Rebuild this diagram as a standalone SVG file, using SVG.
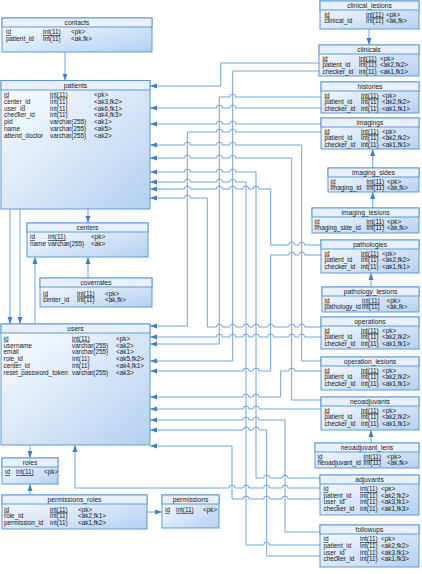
<svg xmlns="http://www.w3.org/2000/svg" width="422" height="574" viewBox="0 0 422 574">
<defs>
<linearGradient id="g" x1="0" y1="0" x2="1" y2="1">
<stop offset="0" stop-color="#ffffff"/>
<stop offset="1" stop-color="#b3d0f2"/>
</linearGradient>
<marker id="a" markerUnits="userSpaceOnUse" markerWidth="7" markerHeight="6" refX="7" refY="3" orient="auto">
<path d="M0,0.5 L7,3 L0,5.5 z" fill="#3d80c9"/>
</marker>
</defs>
<style>
.b{fill:url(#g);stroke:#5f9ad6;stroke-width:1}
.h{fill:#e7f0fb;stroke:#5f9ad6;stroke-width:1}
text{font-family:"Liberation Sans",Arial,sans-serif;font-size:6.4px;fill:#1a1a1a}
.t{text-anchor:middle;font-size:6.7px}
.u{text-decoration:underline}
.c{fill:none;stroke:#6ea3dc;stroke-width:1}
</style>
<rect width="422" height="574" fill="#ffffff"/>

<g id="connectors">
<path class="c" marker-end="url(#a)" d="M65,52V80.5"/>
<path class="c" marker-end="url(#a)" d="M88,209V223"/>
<path class="c" marker-end="url(#a)" d="M88,278V257"/>
<path class="c" marker-end="url(#a)" d="M35,324V257"/>
<path class="c" marker-end="url(#a)" d="M10,209V324"/>
<path class="c" marker-end="url(#a)" d="M20,209V324"/>
<path class="c" marker-end="url(#a)" d="M30,445V458"/>
<path class="c" marker-end="url(#a)" d="M30,495V484"/>
<path class="c" marker-end="url(#a)" d="M147,512H162"/>
<path class="c" marker-end="url(#a)" d="M369,29V45"/>
<path class="c" marker-end="url(#a)" d="M372.7,168V149"/>
<path class="c" marker-end="url(#a)" d="M372.7,208V192"/>
<path class="c" marker-end="url(#a)" d="M371,287V273"/>
<path class="c" marker-end="url(#a)" d="M371,443V430"/>

<path class="c" marker-end="url(#a)" d="M319,63H220.7V86H150"/>
<path class="c" marker-end="url(#a)" d="M319,71H232.7V361H150"/>
<path class="c" marker-end="url(#a)" d="M321,108H235.7a3 3 0 0 0-6 0H222.3a3 3 0 0 0-6 0H150"/>
<path class="c" marker-end="url(#a)" d="M321,97H235.7a3 3 0 0 0-6 0H219.3V344H150"/>
<path class="c" marker-end="url(#a)" d="M321,124H235.7a3 3 0 0 0-6 0H222.3a3 3 0 0 0-6 0H150"/>
<path class="c" marker-end="url(#a)" d="M321,132H235.7a3 3 0 0 0-6 0H222.3a3 3 0 0 0-6 0H187.3V326H150"/>
<path class="c" marker-end="url(#a)" d="M321,245H304.7a3 3 0 0 0-6 0H294.7a3 3 0 0 0-6 0H270.7V189H259a3 3 0 0 0-6 0H249a3 3 0 0 0-6 0H235.7a3 3 0 0 0-6 0H222.3a3 3 0 0 0-6 0H190.3a3 3 0 0 0-6 0H150"/>
<path class="c" marker-end="url(#a)" d="M321,255H304.7a3 3 0 0 0-6 0H294.7a3 3 0 0 0-6 0H270.7V371H259a3 3 0 0 0-6 0H249a3 3 0 0 0-6 0H150"/>
<path class="c" marker-end="url(#a)" d="M321,327H304.7a3 3 0 0 0-6 0H294.7a3 3 0 0 0-6 0H273.7a3 3 0 0 0-6 0H259a3 3 0 0 0-6 0H249a3 3 0 0 0-6 0H235.7a3 3 0 0 0-6 0H222.3a3 3 0 0 0-6 0H207.3V198H190.3a3 3 0 0 0-6 0H150"/>
<path class="c" marker-end="url(#a)" d="M321,337H304.7a3 3 0 0 0-6 0H294.7a3 3 0 0 0-6 0H273.7a3 3 0 0 0-6 0H259a3 3 0 0 0-6 0H249a3 3 0 0 0-6 0H235.7a3 3 0 0 0-6 0H222.3a3 3 0 0 0-6 0H150"/>
<path class="c" marker-end="url(#a)" d="M321,361H301.7V145H235.7a3 3 0 0 0-6 0H222.3a3 3 0 0 0-6 0H190.3a3 3 0 0 0-6 0H150"/>
<path class="c" marker-end="url(#a)" d="M321,371H294.7a3 3 0 0 0-6 0H280.7V397H259a3 3 0 0 0-6 0H249a3 3 0 0 0-6 0H150"/>
<path class="c" marker-end="url(#a)" d="M321,400H291.7V158H235.7a3 3 0 0 0-6 0H222.3a3 3 0 0 0-6 0H190.3a3 3 0 0 0-6 0H150"/>
<path class="c" marker-end="url(#a)" d="M321,409H259a3 3 0 0 0-6 0H249a3 3 0 0 0-6 0H150"/>
<path class="c" marker-end="url(#a)" d="M320,478H288a3 3 0 0 0-6 0H269.7a3 3 0 0 0-6 0H256V172H235.7a3 3 0 0 0-6 0H222.3a3 3 0 0 0-6 0H190.3a3 3 0 0 0-6 0H150"/>
<path class="c" marker-end="url(#a)" d="M320,488H288a3 3 0 0 0-6 0H269.7a3 3 0 0 0-6 0H249a3 3 0 0 0-6 0H235a3 3 0 0 0-6 0H75V445"/>
<path class="c" marker-end="url(#a)" d="M320,499H288a3 3 0 0 0-6 0H269.7a3 3 0 0 0-6 0H249a3 3 0 0 0-6 0H232V446H150"/>
<path class="c" marker-end="url(#a)" d="M320,545H269.7a3 3 0 0 0-6 0H246V182H235.7a3 3 0 0 0-6 0H222.3a3 3 0 0 0-6 0H190.3a3 3 0 0 0-6 0H150"/>
<path class="c" marker-end="url(#a)" d="M320,532H285V420H259a3 3 0 0 0-6 0H249a3 3 0 0 0-6 0H150"/>
<path class="c" marker-end="url(#a)" d="M320,556H266.7V430H259a3 3 0 0 0-6 0H249a3 3 0 0 0-6 0H150"/>
</g>

<g id="contacts">
<rect class="b" x="2" y="18" width="150" height="34"/>
<rect class="h" x="2" y="18" width="150" height="9"/>
<text class="t" x="77" y="25">contacts</text>
<text x="6" y="34.2" class="u">id</text><text x="43" y="34.2" class="u">int(11)</text><text x="71" y="34.2">&lt;pk&gt;</text>
<text x="6" y="41.1">patient_id</text><text x="43" y="41.1">int(11)</text><text x="71" y="41.1">&lt;ak,fk&gt;</text>
</g>

<g id="patients">
<rect class="b" x="1" y="80.5" width="149" height="128.5"/>
<rect class="h" x="1" y="80.5" width="149" height="9.5"/>
<text class="t" x="75.5" y="87.6">patients</text>
<text x="4" y="96.6" class="u">id</text><text x="50" y="96.6" class="u">int(11)</text><text x="94" y="96.6">&lt;pk&gt;</text>
<text x="4" y="103.5">center_id</text><text x="50" y="103.5">int(11)</text><text x="94" y="103.5">&lt;ak3,fk2&gt;</text>
<text x="4" y="110.5">user_id</text><text x="50" y="110.5">int(11)</text><text x="94" y="110.5">&lt;ak6,fk1&gt;</text>
<text x="4" y="117.4">checker_id</text><text x="50" y="117.4">int(11)</text><text x="94" y="117.4">&lt;ak4,fk3&gt;</text>
<text x="4" y="124.4">pid</text><text x="50" y="124.4">varchar(255)</text><text x="94" y="124.4">&lt;ak1&gt;</text>
<text x="4" y="131.3">name</text><text x="50" y="131.3">varchar(255)</text><text x="94" y="131.3">&lt;ak5&gt;</text>
<text x="4" y="138.3">attend_doctor</text><text x="50" y="138.3">varchar(255)</text><text x="94" y="138.3">&lt;ak2&gt;</text>
</g>

<g id="centers">
<rect class="b" x="27" y="223" width="121" height="34"/>
<rect class="h" x="27" y="223" width="121" height="9"/>
<text class="t" x="87.5" y="230">centers</text>
<text x="30" y="239" class="u">id</text><text x="48" y="239" class="u">int(11)</text><text x="91" y="239">&lt;pk&gt;</text>
<text x="30" y="245.7">name</text><text x="48" y="245.7">varchar(255)</text><text x="91" y="245.7">&lt;ak&gt;</text>
</g>

<g id="coverrates">
<rect class="b" x="40" y="278" width="112" height="29"/>
<rect class="h" x="40" y="278" width="112" height="9"/>
<text class="t" x="96" y="285">coverrates</text>
<text x="43" y="295.6" class="u">id</text><text x="77" y="295.6" class="u">int(11)</text><text x="105" y="295.6">&lt;pk&gt;</text>
<text x="43" y="302.3">center_id</text><text x="77" y="302.3">int(11)</text><text x="105" y="302.3">&lt;ak,fk&gt;</text>
</g>

<g id="users">
<rect class="b" x="1" y="324" width="149" height="121"/>
<rect class="h" x="1" y="324" width="149" height="9"/>
<text class="t" x="75.5" y="331">users</text>
<text x="3.5" y="340.6" class="u">id</text><text x="72" y="340.6" class="u">int(11)</text><text x="116" y="340.6">&lt;pk&gt;</text>
<text x="3.5" y="347.5">username</text><text x="72" y="347.5">varchar(255)</text><text x="116" y="347.5">&lt;ak2&gt;</text>
<text x="3.5" y="354.4">email</text><text x="72" y="354.4">varchar(255)</text><text x="116" y="354.4">&lt;ak1&gt;</text>
<text x="3.5" y="361.3">role_id</text><text x="72" y="361.3">int(11)</text><text x="116" y="361.3">&lt;ak5,fk2&gt;</text>
<text x="3.5" y="368.2">center_id</text><text x="72" y="368.2">int(11)</text><text x="116" y="368.2">&lt;ak4,fk1&gt;</text>
<text x="3.5" y="375.1">reset_password_token</text><text x="72" y="375.1">varchar(255)</text><text x="116" y="375.1">&lt;ak3&gt;</text>
</g>

<g id="roles">
<rect class="b" x="2" y="458" width="56" height="26"/>
<rect class="h" x="2" y="458" width="56" height="9"/>
<text class="t" x="30" y="465">roles</text>
<text x="5" y="474.3" class="u">id</text><text x="16" y="474.3" class="u">int(11)</text><text x="44" y="474.3">&lt;pk&gt;</text>
</g>

<g id="permissions_roles">
<rect class="b" x="2" y="495" width="145" height="34"/>
<rect class="h" x="2" y="495" width="145" height="9"/>
<text class="t" x="74.5" y="502">permissions_roles</text>
<text x="4" y="511.5" class="u">id</text><text x="50" y="511.5" class="u">int(11)</text><text x="78" y="511.5">&lt;pk&gt;</text>
<text x="4" y="518.2">role_id</text><text x="50" y="518.2">int(11)</text><text x="78" y="518.2">&lt;ak2,fk1&gt;</text>
<text x="4" y="524.9">permission_id</text><text x="50" y="524.9">int(11)</text><text x="78" y="524.9">&lt;ak1,fk2&gt;</text>
</g>

<g id="permissions">
<rect class="b" x="162" y="495" width="57" height="33"/>
<rect class="h" x="162" y="495" width="57" height="9"/>
<text class="t" x="190.5" y="502">permissions</text>
<text x="165" y="511.9" class="u">id</text><text x="176" y="511.9" class="u">int(11)</text><text x="203" y="511.9">&lt;pk&gt;</text>
</g>

<g id="clinical_lesions">
<rect class="b" x="320" y="1" width="99" height="28"/>
<rect class="h" x="320" y="1" width="99" height="9"/>
<text class="t" x="369.5" y="8">clinical_lesions</text>
<text x="324.5" y="16.5" class="u">id</text><text x="366" y="16.5" class="u">int(11)</text><text x="386" y="16.5">&lt;pk&gt;</text>
<text x="324.5" y="23">clinical_id</text><text x="366" y="23">int(11)</text><text x="386" y="23">&lt;ak,fk&gt;</text>
</g>

<g id="clinicals">
<rect class="b" x="319" y="45" width="100" height="31"/>
<rect class="h" x="319" y="45" width="100" height="9"/>
<text class="t" x="369" y="52">clinicals</text>
<text x="322.5" y="60.5" class="u">id</text><text x="359" y="60.5" class="u">int(11)</text><text x="380" y="60.5">&lt;pk&gt;</text>
<text x="322.5" y="67.2">patient_id</text><text x="359" y="67.2">int(11)</text><text x="380" y="67.2">&lt;ak2,fk2&gt;</text>
<text x="322.5" y="73.9">checker_id</text><text x="359" y="73.9">int(11)</text><text x="380" y="73.9">&lt;ak1,fk1&gt;</text>
</g>

<g id="histories">
<rect class="b" x="321" y="82" width="98" height="31"/>
<rect class="h" x="321" y="82" width="98" height="9"/>
<text class="t" x="370" y="89">histories</text>
<text x="324.5" y="97.5" class="u">id</text><text x="361" y="97.5" class="u">int(11)</text><text x="382" y="97.5">&lt;pk&gt;</text>
<text x="324.5" y="104.2">patient_id</text><text x="361" y="104.2">int(11)</text><text x="382" y="104.2">&lt;ak2,fk2&gt;</text>
<text x="324.5" y="110.9">checker_id</text><text x="361" y="110.9">int(11)</text><text x="382" y="110.9">&lt;ak1,fk1&gt;</text>
</g>

<g id="imagings">
<rect class="b" x="321" y="118" width="98" height="31"/>
<rect class="h" x="321" y="118" width="98" height="9"/>
<text class="t" x="370" y="125">imagings</text>
<text x="324.5" y="133.5" class="u">id</text><text x="361" y="133.5" class="u">int(11)</text><text x="382" y="133.5">&lt;pk&gt;</text>
<text x="324.5" y="140.2">patient_id</text><text x="361" y="140.2">int(11)</text><text x="382" y="140.2">&lt;ak2,fk2&gt;</text>
<text x="324.5" y="146.9">checker_id</text><text x="361" y="146.9">int(11)</text><text x="382" y="146.9">&lt;ak1,fk1&gt;</text>
</g>

<g id="imaging_sides">
<rect class="b" x="328" y="168" width="91" height="24"/>
<rect class="h" x="328" y="168" width="91" height="9"/>
<text class="t" x="373.5" y="175">imaging_sides</text>
<text x="330.5" y="183.8" class="u">id</text><text x="366.5" y="183.8" class="u">int(11)</text><text x="387" y="183.8">&lt;pk&gt;</text>
<text x="330.5" y="190">imaging_id</text><text x="366.5" y="190">int(11)</text><text x="387" y="190">&lt;ak,fk&gt;</text>
</g>

<g id="imaging_lesions">
<rect class="b" x="312" y="208" width="107" height="25"/>
<rect class="h" x="312" y="208" width="107" height="9"/>
<text class="t" x="365.5" y="215">imaging_lesions</text>
<text x="314.5" y="223.8" class="u">id</text><text x="366.5" y="223.8" class="u">int(11)</text><text x="387" y="223.8">&lt;pk&gt;</text>
<text x="314.5" y="230.2">imaging_side_id</text><text x="366.5" y="230.2">int(11)</text><text x="387" y="230.2">&lt;ak,fk&gt;</text>
</g>

<g id="pathologies">
<rect class="b" x="321" y="240" width="98" height="33"/>
<rect class="h" x="321" y="240" width="98" height="9"/>
<text class="t" x="370" y="247">pathologies</text>
<text x="324.5" y="255.5" class="u">id</text><text x="361" y="255.5" class="u">int(11)</text><text x="382" y="255.5">&lt;pk&gt;</text>
<text x="324.5" y="262.2">patient_id</text><text x="361" y="262.2">int(11)</text><text x="382" y="262.2">&lt;ak2,fk2&gt;</text>
<text x="324.5" y="268.9">checker_id</text><text x="361" y="268.9">int(11)</text><text x="382" y="268.9">&lt;ak1,fk1&gt;</text>
</g>

<g id="pathology_lesions">
<rect class="b" x="322" y="287" width="97" height="25"/>
<rect class="h" x="322" y="287" width="97" height="9"/>
<text class="t" x="370.5" y="294">pathology_lesions</text>
<text x="324.5" y="302.8" class="u">id</text><text x="362" y="302.8" class="u">int(11)</text><text x="386.5" y="302.8">&lt;pk&gt;</text>
<text x="324.5" y="309.2">pathology_id</text><text x="362" y="309.2">int(11)</text><text x="386.5" y="309.2">&lt;ak,fk&gt;</text>
</g>

<g id="operations">
<rect class="b" x="321" y="317" width="98" height="32"/>
<rect class="h" x="321" y="317" width="98" height="9"/>
<text class="t" x="370" y="324">operations</text>
<text x="324.5" y="332.5" class="u">id</text><text x="361" y="332.5" class="u">int(11)</text><text x="382" y="332.5">&lt;pk&gt;</text>
<text x="324.5" y="339.2">patient_id</text><text x="361" y="339.2">int(11)</text><text x="382" y="339.2">&lt;ak2,fk2&gt;</text>
<text x="324.5" y="345.9">checker_id</text><text x="361" y="345.9">int(11)</text><text x="382" y="345.9">&lt;ak1,fk1&gt;</text>
</g>

<g id="operation_lesions">
<rect class="b" x="321" y="357" width="98" height="33"/>
<rect class="h" x="321" y="357" width="98" height="9"/>
<text class="t" x="370" y="364">operation_lesions</text>
<text x="324.5" y="372.5" class="u">id</text><text x="361" y="372.5" class="u">int(11)</text><text x="382" y="372.5">&lt;pk&gt;</text>
<text x="324.5" y="379.2">patient_id</text><text x="361" y="379.2">int(11)</text><text x="382" y="379.2">&lt;ak2,fk2&gt;</text>
<text x="324.5" y="385.9">checker_id</text><text x="361" y="385.9">int(11)</text><text x="382" y="385.9">&lt;ak1,fk1&gt;</text>
</g>

<g id="neoadjuvants">
<rect class="b" x="321" y="397" width="98" height="33"/>
<rect class="h" x="321" y="397" width="98" height="9"/>
<text class="t" x="370" y="404">neoadjuvants</text>
<text x="324.5" y="412.5" class="u">id</text><text x="361" y="412.5" class="u">int(11)</text><text x="382" y="412.5">&lt;pk&gt;</text>
<text x="324.5" y="419.2">patient_id</text><text x="361" y="419.2">int(11)</text><text x="382" y="419.2">&lt;ak2,fk2&gt;</text>
<text x="324.5" y="425.9">checker_id</text><text x="361" y="425.9">int(11)</text><text x="382" y="425.9">&lt;ak1,fk1&gt;</text>
</g>

<g id="neoadjuvant_lens">
<rect class="b" x="315" y="443" width="104" height="25"/>
<rect class="h" x="315" y="443" width="104" height="9"/>
<text class="t" x="367" y="450">neoadjuvant_lens</text>
<text x="317.5" y="458.8" class="u">id</text><text x="363.5" y="458.8" class="u">int(11)</text><text x="387" y="458.8">&lt;pk&gt;</text>
<text x="317.5" y="465.2">neoadjuvant_id</text><text x="363.5" y="465.2">int(11)</text><text x="387" y="465.2">&lt;ak,fk&gt;</text>
</g>

<g id="adjuvants">
<rect class="b" x="320" y="475" width="99" height="40"/>
<rect class="h" x="320" y="475" width="99" height="9"/>
<text class="t" x="369.5" y="482">adjuvants</text>
<text x="323.5" y="491" class="u">id</text><text x="360" y="491" class="u">int(11)</text><text x="381" y="491">&lt;pk&gt;</text>
<text x="323.5" y="497.6">patient_id</text><text x="360" y="497.6">int(11)</text><text x="381" y="497.6">&lt;ak2,fk2&gt;</text>
<text x="323.5" y="504.2">user_id</text><text x="360" y="504.2">int(11)</text><text x="381" y="504.2">&lt;ak3,fk1&gt;</text>
<text x="323.5" y="510.8">checker_id</text><text x="360" y="510.8">int(11)</text><text x="381" y="510.8">&lt;ak1,fk3&gt;</text>
</g>

<g id="followups">
<rect class="b" x="320" y="525" width="99" height="42"/>
<rect class="h" x="320" y="525" width="99" height="9"/>
<text class="t" x="369.5" y="532">followups</text>
<text x="323.5" y="541.3" class="u">id</text><text x="360" y="541.3" class="u">int(11)</text><text x="381" y="541.3">&lt;pk&gt;</text>
<text x="323.5" y="547.9">patient_id</text><text x="360" y="547.9">int(11)</text><text x="381" y="547.9">&lt;ak2,fk2&gt;</text>
<text x="323.5" y="554.5">user_id</text><text x="360" y="554.5">int(11)</text><text x="381" y="554.5">&lt;ak3,fk1&gt;</text>
<text x="323.5" y="561.1">checker_id</text><text x="360" y="561.1">int(11)</text><text x="381" y="561.1">&lt;ak1,fk3&gt;</text>
</g>
</svg>
